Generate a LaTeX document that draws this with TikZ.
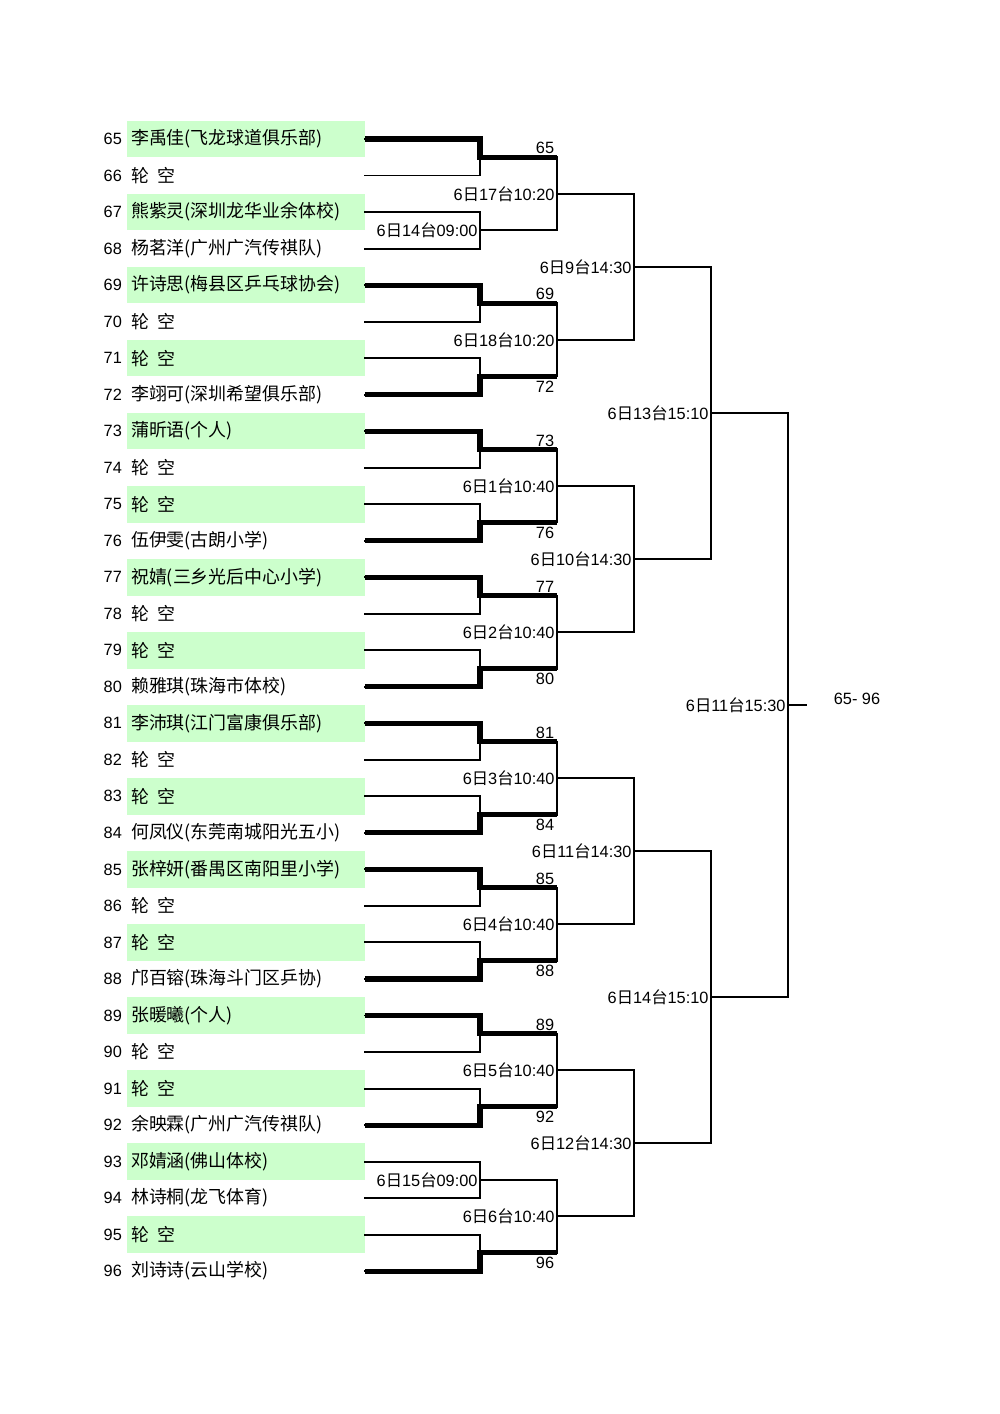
\documentclass[tikz,border=0pt]{standalone}
\usepackage{fontspec}
\setmainfont{Liberation Sans}
\newfontfamily\cjk{Noto Sans CJK SC}
\usepackage{tikz}
\usetikzlibrary{
  positioning, calc
}
\definecolor{seedgreen}{HTML}{CCFFCC}
\newcommand{\matchtime}[3]{#1{\cjk 日}#2{\cjk 台}#3}
\newcommand{\lunkong}{轮\hspace{0.45em}空}
\tikzset{
  seedno/.style={anchor=east,inner sep=1pt,font=\fontsize{9.3}{11}\selectfont},
  seedname/.style={anchor=west,inner sep=1pt,font=\cjk\fontsize{10.2}{12}\selectfont},
  timelbl/.style={anchor=east,inner sep=1.2pt,font=\fontsize{9.3}{11}\selectfont},
  winlbl/.style={inner sep=0pt,font=\fontsize{9.3}{11}\selectfont},
  plainline/.style={line width=1.1pt,line cap=rect,draw=black},
  winline/.style={line width=2.9pt,draw=black}
}

\begin{document}
\begin{tikzpicture}[x=0.02cm,y=-0.02cm]

  \useasboundingbox (0,0) rectangle (1000,1414);

  % Entries
  \foreach \i/\nm in {
    0/李禹佳(飞龙球道俱乐部), 1/\lunkong, 2/熊紫灵(深圳龙华业余体校), 3/杨茗洋(广州广汽传祺队),
    4/许诗思(梅县区乒乓球协会), 5/\lunkong, 6/\lunkong, 7/李翊可(深圳希望俱乐部),
    8/蒲昕语(个人), 9/\lunkong, 10/\lunkong, 11/伍伊雯(古朗小学),
    12/祝婧(三乡光后中心小学), 13/\lunkong, 14/\lunkong, 15/赖雅琪(珠海市体校),
    16/李沛琪(江门富康俱乐部), 17/\lunkong, 18/\lunkong, 19/何凤仪(东莞南城阳光五小),
    20/张梓妍(番禺区南阳里小学), 21/\lunkong, 22/\lunkong, 23/邝百镕(珠海斗门区乒协),
    24/张暖曦(个人), 25/\lunkong, 26/\lunkong, 27/余映霖(广州广汽传祺队),
    28/邓婧涵(佛山体校), 29/林诗桐(龙飞体育), 30/\lunkong, 31/刘诗诗(云山学校)
  }{
    \pgfmathsetmacro{\yr}{139+36.52*\i}
    \pgfmathtruncatemacro{\no}{65+\i}
    \ifodd\i\else
      \fill[seedgreen] (127,\yr-18.3) rectangle (365,\yr+18.3);
    \fi
    \node[seedno] (n\no) at (124,\yr) {\no};
    \node[seedname] (p\no) at (129,\yr) {\nm};
    \coordinate (l\no) at (365,\yr);
    \coordinate (r\no) at (480,\yr);
    \draw[plainline] (l\no) -- (r\no);
  }

  % Round 1
  \foreach \k/\w/\lbl in {
    0/1/65, 1/0/{\matchtime{6}{14}{09:00}}, 2/1/69, 3/2/72,
    4/1/73, 5/2/76, 6/1/77, 7/2/80,
    8/1/81, 9/2/84, 10/1/85, 11/2/88,
    12/1/89, 13/2/92, 14/0/{\matchtime{6}{15}{09:00}}, 15/2/96
  }{
    \pgfmathtruncatemacro{\ta}{65+2*\k}
    \pgfmathtruncatemacro{\tb}{66+2*\k}
    \coordinate (a\k) at ($(r\ta)!0.5!(r\tb)$);
    \coordinate (b\k) at ($(a\k)+(77,0)$);
    \draw[plainline] (r\ta) -- (r\tb);
    \ifcase\w
      \draw[plainline] (a\k) -- (b\k);
      \node[timelbl] (s\k) at (a\k) {\lbl};
    \or
      \draw[winline] (l\ta) -- (r\ta) -- (a\k) -- (b\k);
      \node[winlbl] (s\k) at ($(b\k)+(-12,-9)$) {\lbl};
    \or
      \draw[winline] (l\tb) -- (r\tb) -- (a\k) -- (b\k);
      \node[winlbl] (s\k) at ($(b\k)+(-12,10)$) {\lbl};
    \fi
  }

  % Round 2
  \foreach \j/\lbl in {
    0/{\matchtime{6}{17}{10:20}}, 1/{\matchtime{6}{18}{10:20}},
    2/{\matchtime{6}{1}{10:40}}, 3/{\matchtime{6}{2}{10:40}},
    4/{\matchtime{6}{3}{10:40}}, 5/{\matchtime{6}{4}{10:40}},
    6/{\matchtime{6}{5}{10:40}}, 7/{\matchtime{6}{6}{10:40}}
  }{
    \pgfmathtruncatemacro{\ka}{2*\j}
    \pgfmathtruncatemacro{\kb}{2*\j+1}
    \coordinate (c\j) at ($(b\ka)!0.5!(b\kb)$);
    \coordinate (d\j) at ($(c\j)+(77,0)$);
    \draw[plainline] (b\ka) -- (b\kb);
    \draw[plainline] (c\j) -- (d\j);
    \node[timelbl] (u\j) at (c\j) {\lbl};
  }

  % Round 3
  \foreach \j/\lbl in {
    0/{\matchtime{6}{9}{14:30}}, 1/{\matchtime{6}{10}{14:30}},
    2/{\matchtime{6}{11}{14:30}}, 3/{\matchtime{6}{12}{14:30}}
  }{
    \pgfmathtruncatemacro{\ka}{2*\j}
    \pgfmathtruncatemacro{\kb}{2*\j+1}
    \coordinate (e\j) at ($(d\ka)!0.5!(d\kb)$);
    \coordinate (f\j) at ($(e\j)+(77,0)$);
    \draw[plainline] (d\ka) -- (d\kb);
    \draw[plainline] (e\j) -- (f\j);
    \node[timelbl] (v\j) at (e\j) {\lbl};
  }

  % Round 4
  \foreach \j/\lbl in {
    0/{\matchtime{6}{13}{15:10}}, 1/{\matchtime{6}{14}{15:10}}
  }{
    \pgfmathtruncatemacro{\ka}{2*\j}
    \pgfmathtruncatemacro{\kb}{2*\j+1}
    \coordinate (g\j) at ($(f\ka)!0.5!(f\kb)$);
    \coordinate (h\j) at ($(g\j)+(77,0)$);
    \draw[plainline] (f\ka) -- (f\kb);
    \draw[plainline] (g\j) -- (h\j);
    \node[timelbl] (x\j) at (g\j) {\lbl};
  }

  % Final
  \coordinate (fin) at ($(h0)!0.5!(h1)$);
  \coordinate (finend) at ($(fin)+(18,0)$);
  \draw[plainline] (h0) -- (h1);
  \draw[plainline] (fin) -- (finend);
  \node[timelbl] (xfin) at (fin) {\matchtime{6}{11}{15:30}};
  \node[winlbl] (grp) at (857,699) {65- 96};

\end{tikzpicture}
\end{document}
